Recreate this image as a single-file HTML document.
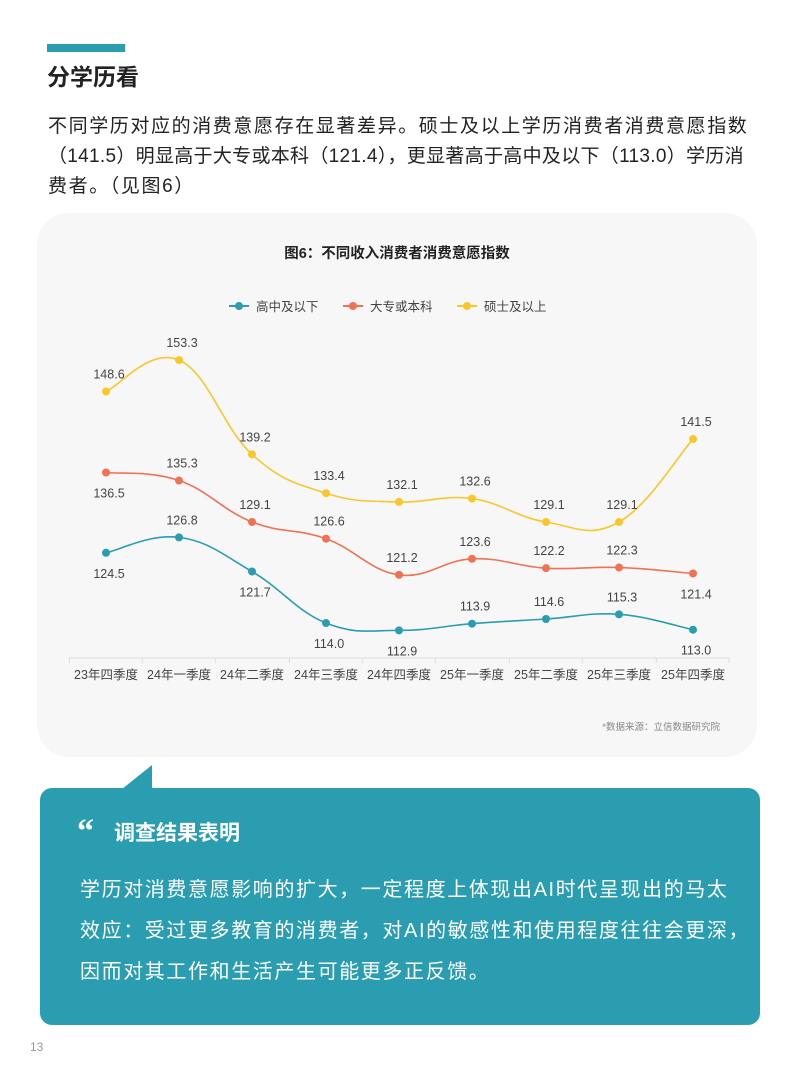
<!DOCTYPE html>
<html><head><meta charset="utf-8"><style>
body{margin:0;width:800px;height:1081px;background:#fff;position:relative;overflow:hidden;font-family:"Liberation Sans","Noto Sans CJK SC",sans-serif;color:#222}
.a{position:absolute}
</style></head><body>
<div class="a" style="left:47px;top:44px;width:78px;height:8px;background:#2a9db0"></div>
<div class="a" style="left:47px;top:60px;font-size:23px;font-weight:bold;line-height:34px">分学历看</div>
<div class="a" style="left:48px;top:112px;width:760px;font-size:19px;letter-spacing:1.6px;line-height:30px;color:#222;white-space:nowrap">不同学历对应的消费意愿存在显著差异。硕士及以上学历消费者消费意愿指数<br><span style="letter-spacing:0.3px">（141.5）明显高于大专或本科（121.4），更显著高于高中及以下（113.0）学历消</span><br>费者。（见图6）</div>
<div class="a" style="left:37px;top:213px;width:720px;height:544px;background:#f7f7f7;border-radius:32px"></div>
<svg class="a" style="left:0;top:0" width="800" height="800" id="s" font-family="Liberation Sans, Noto Sans CJK SC, sans-serif">
<text x="397" y="258" text-anchor="middle" font-size="14.5" font-weight="bold" fill="#222">图6：不同收入消费者消费意愿指数</text>
<g font-size="12.5" fill="#444">
<line x1="229" y1="306" x2="249" y2="306" stroke="#2a9db0" stroke-width="2"/><circle cx="239" cy="306" r="4" fill="#2a9db0"/><text x="256" y="311">高中及以下</text>
<line x1="343" y1="306" x2="363" y2="306" stroke="#f07255" stroke-width="2"/><circle cx="353" cy="306" r="4" fill="#f07255"/><text x="370" y="311">大专或本科</text>
<line x1="457" y1="306" x2="477" y2="306" stroke="#f9c72c" stroke-width="2"/><circle cx="467" cy="306" r="4" fill="#f9c72c"/><text x="484" y="311">硕士及以上</text>
</g>
<line x1="69" y1="658" x2="729" y2="658" stroke="#ddd" stroke-width="1"/>
<g id="g"></g>
<text x="720" y="730" text-anchor="end" font-size="9.5" fill="#888">*数据来源：立信数据研究院</text>
</svg>
<div class="a" style="left:40px;top:788px;width:720px;height:237px;background:#2a9db0;border-radius:12px"></div>
<svg class="a" style="left:0;top:760px" width="200" height="30"><polygon points="122,29 152,5 152,29" fill="#2a9db0"/></svg>
<div class="a" style="left:77px;top:812px;font-size:34px;font-weight:bold;color:#fff;font-family:'Liberation Serif',serif;line-height:40px">“</div>
<div class="a" style="left:114px;top:819px;font-size:21px;font-weight:bold;color:#fff;line-height:30px">调查结果表明</div>
<div class="a" style="left:80px;top:870px;width:700px;font-size:20px;letter-spacing:1.6px;line-height:41px;color:#fff;white-space:nowrap">学历对消费意愿影响的扩大，一定程度上体现出AI时代呈现出的马太<br>效应：受过更多教育的消费者，对AI的敏感性和使用程度往往会更深，<br>因而对其工作和生活产生可能更多正反馈。</div>
<div class="a" style="left:30px;top:1040px;font-size:12px;color:#999">13</div>
<script>
var xs=[106,179,252,326,399,472,546,619,693];
var cats=["23年四季度","24年一季度","24年二季度","24年三季度","24年四季度","25年一季度","25年二季度","25年三季度","25年四季度"];
function Y(v){return 522+(129.1-v)*6.69;}
var S=[
{c:"#f9c72c",d:[148.6,153.3,139.2,133.4,132.1,132.6,129.1,129.1,141.5],l:[-1,-1,-1,-1,-1,-1,-1,-1,-1]},
{c:"#f07255",d:[136.5,135.3,129.1,126.6,121.2,123.6,122.2,122.3,121.4],l:[1,-1,-1,-1,-1,-1,-1,-1,1]},
{c:"#2a9db0",d:[124.5,126.8,121.7,114.0,112.9,113.9,114.6,115.3,113.0],l:[1,-1,1,1,1,-1,-1,-1,1]}];
var h="";
for(var i=0;i<9;i++){h+='<line x1="'+(xs[i]-36.7)+'" y1="658" x2="'+(xs[i]-36.7)+'" y2="663" stroke="#ddd"/>';
h+='<text x="'+xs[i]+'" y="679" text-anchor="middle" font-size="12.5" fill="#444">'+cats[i]+'</text>';}
h+='<line x1="729" y1="658" x2="729" y2="663" stroke="#ddd"/>';
S.forEach(function(s){
var p=s.d.map(function(v,i){return [xs[i],Y(v)];});
var d="M"+p[0][0]+","+p[0][1];
for(var i=0;i<p.length-1;i++){var p0=p[i-1]||p[i],p1=p[i],p2=p[i+1],p3=p[i+2]||p2,t=0.2;
d+=" C"+(p1[0]+(p2[0]-p0[0])*t)+","+(p1[1]+(p2[1]-p0[1])*t)+" "+(p2[0]-(p3[0]-p1[0])*t)+","+(p2[1]-(p3[1]-p1[1])*t)+" "+p2[0]+","+p2[1];}
h+='<path d="'+d+'" fill="none" stroke="'+s.c+'" stroke-width="1.6"/>';
p.forEach(function(q,i){h+='<circle cx="'+q[0]+'" cy="'+q[1]+'" r="4" fill="'+s.c+'"/>';
var ty=s.l[i]<0?q[1]-13:q[1]+25;
h+='<text x="'+(q[0]+3)+'" y="'+ty+'" text-anchor="middle" font-size="12.5" fill="#444">'+s.d[i].toFixed(1)+'</text>';});
});
document.getElementById("g").innerHTML=h;
</script>
</body></html>
